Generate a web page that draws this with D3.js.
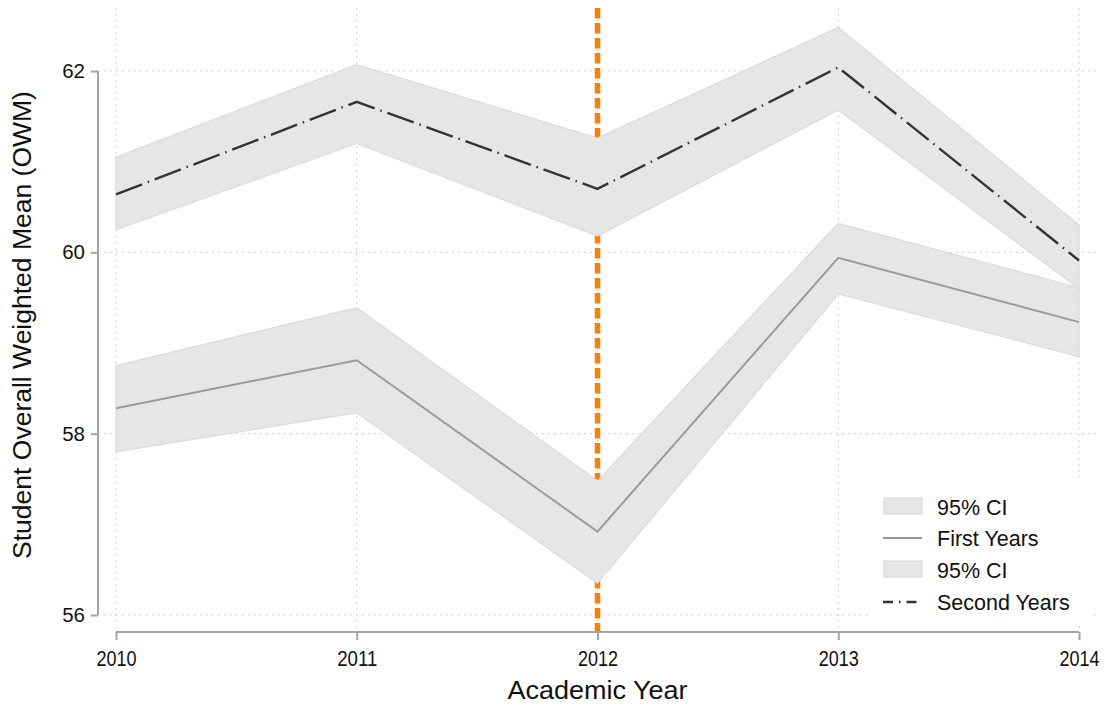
<!DOCTYPE html>
<html>
<head>
<meta charset="utf-8">
<script src="https://cdn.jsdelivr.net/npm/d3@7"></script>
<style>
  html, body { margin: 0; padding: 0; background: #fff; }
  svg { display: block; font-family: "Liberation Sans", Arial, Helvetica, sans-serif; }
</style>
</head>
<body>
<svg id="chart" width="1105" height="706"></svg>
<script>
// Academic years on the x axis
const years = [2010, 2011, 2012, 2013, 2014];

// First-year students: mean OWM with 95% confidence bounds
const firstMean  = [58.28, 58.81, 56.92, 59.94, 59.23];
const firstLower = [57.80, 58.23, 56.35, 59.54, 58.85];
const firstUpper = [58.75, 59.39, 57.48, 60.32, 59.61];

// Second-year students: mean OWM with 95% confidence bounds
const secondMean  = [60.64, 61.66, 60.70, 62.04, 59.91];
const secondLower = [60.25, 61.20, 60.18, 61.57, 59.60];
const secondUpper = [61.05, 62.07, 61.26, 62.48, 60.30];

// Axis ticks and the policy-change marker year
const yTicks = [56, 58, 60, 62];
const xTicks = [2010, 2011, 2012, 2013, 2014];
const markerYear = 2012;

const legendItems = ["95% CI", "First Years", "95% CI", "Second Years"];

const svg = d3.select("#chart");

const x = d3.scaleLinear().domain([2010, 2014]).range([116, 1079]);
const y = d3.scaleLinear().domain([56, 62]).range([615, 71]);

const plotTop = 8, plotBottom = 632, plotLeft = 104, plotRight = 1097;

const bandFill = "#e6e6e6", bandStroke = "#dbdbdb";
const gridColor = "#c4c4c4";
const axisColor = "#a3a3a3";

// Grid
const grid = svg.append("g");
grid.selectAll("line.h").data(yTicks).join("line")
  .attr("x1", plotLeft).attr("x2", plotRight)
  .attr("y1", d => y(d)).attr("y2", d => y(d))
  .attr("stroke", gridColor).attr("stroke-width", 1)
  .attr("stroke-dasharray", "1.5,4.5");
grid.selectAll("line.v").data(xTicks).join("line")
  .attr("x1", d => x(d)).attr("x2", d => x(d))
  .attr("y1", plotTop).attr("y2", plotBottom)
  .attr("stroke", gridColor).attr("stroke-width", 1)
  .attr("stroke-dasharray", "1.5,4.5");

// Vertical marker line
svg.append("line")
  .attr("x1", x(markerYear)).attr("x2", x(markerYear))
  .attr("y1", plotTop).attr("y2", plotBottom)
  .attr("stroke", "#ff8000").attr("stroke-width", 5.5)
  .attr("stroke-dasharray", "10.5,4.5");

const idx = d3.range(years.length);

const area = (lo, hi) => d3.area()
  .x(i => x(years[i]))
  .y0(i => y(lo[i]))
  .y1(i => y(hi[i]));
const line = (vals) => d3.line()
  .x(i => x(years[i]))
  .y(i => y(vals[i]));

// First years: band then line
svg.append("path").datum(idx)
  .attr("d", area(firstLower, firstUpper))
  .attr("fill", bandFill).attr("stroke", bandStroke).attr("stroke-width", 1.2);
svg.append("path").datum(idx)
  .attr("d", line(firstMean))
  .attr("fill", "none").attr("stroke", "#9a9a9a").attr("stroke-width", 2);

// Second years: band then line
svg.append("path").datum(idx)
  .attr("d", area(secondLower, secondUpper))
  .attr("fill", bandFill).attr("stroke", bandStroke).attr("stroke-width", 1.2);
svg.append("path").datum(idx)
  .attr("d", line(secondMean))
  .attr("fill", "none").attr("stroke", "#333").attr("stroke-width", 2.4)
  .attr("stroke-dasharray", "28,6,1.5,6");

// Y axis
const yAxis = svg.append("g").attr("transform", "translate(98,0)")
  .call(d3.axisLeft(y).tickValues(yTicks).tickSize(7).tickPadding(6).tickFormat(d3.format("d")));
yAxis.select(".domain").attr("d", `M0,${y(62)}V${y(56)}`);
yAxis.selectAll(".domain, .tick line").attr("stroke", axisColor).attr("stroke-width", 2);
yAxis.selectAll(".tick text").attr("font-size", 20.5).attr("fill", "#111")
  .attr("font-family", "Liberation Sans, Arial, sans-serif");

// X axis
const xAxis = svg.append("g").attr("transform", "translate(0,632)")
  .call(d3.axisBottom(x).tickValues(xTicks).tickSize(8).tickPadding(10).tickFormat(d3.format("d")));
xAxis.select(".domain").attr("d", `M${x(2010)},0H${x(2014)}`);
xAxis.selectAll(".domain, .tick line").attr("stroke", axisColor).attr("stroke-width", 2);
xAxis.selectAll(".tick text").attr("font-size", 22).attr("fill", "#111")
  .attr("font-family", "Liberation Sans, Arial, sans-serif")
  .attr("textLength", 40).attr("lengthAdjust", "spacingAndGlyphs");

// Axis titles
svg.append("text")
  .attr("x", (x(2010) + x(2014)) / 2).attr("y", 699)
  .attr("text-anchor", "middle").attr("font-size", 26.5).attr("fill", "#111")
  .attr("textLength", 180).attr("lengthAdjust", "spacingAndGlyphs")
  .text("Academic Year");
svg.append("text")
  .attr("transform", "translate(31,325) rotate(-90)")
  .attr("text-anchor", "middle").attr("font-size", 26.5).attr("fill", "#111")
  .text("Student Overall Weighted Mean (OWM)");

// Legend
const legend = svg.append("g");
legend.append("rect")
  .attr("x", 872).attr("y", 480).attr("width", 222).attr("height", 142)
  .attr("fill", "#fff");
const rowY = [507, 538, 570, 602];
legendItems.forEach((label, i) => {
  const ry = rowY[i];
  if (i === 0 || i === 2) {
    legend.append("rect")
      .attr("x", 884).attr("y", ry - 9).attr("width", 38).attr("height", 16)
      .attr("fill", bandFill).attr("stroke", bandStroke).attr("stroke-width", 1.2);
  } else if (i === 1) {
    legend.append("line")
      .attr("x1", 883).attr("x2", 922).attr("y1", ry).attr("y2", ry)
      .attr("stroke", "#9a9a9a").attr("stroke-width", 2);
  } else {
    legend.append("line")
      .attr("x1", 883).attr("x2", 922).attr("y1", ry).attr("y2", ry)
      .attr("stroke", "#333").attr("stroke-width", 2.4)
      .attr("stroke-dasharray", "10,6,1.5,6");
  }
  legend.append("text")
    .attr("x", 937).attr("y", ry).attr("dy", "0.35em")
    .attr("font-size", 21.5).attr("fill", "#111")
    .text(label);
});
</script>
</body>
</html>
